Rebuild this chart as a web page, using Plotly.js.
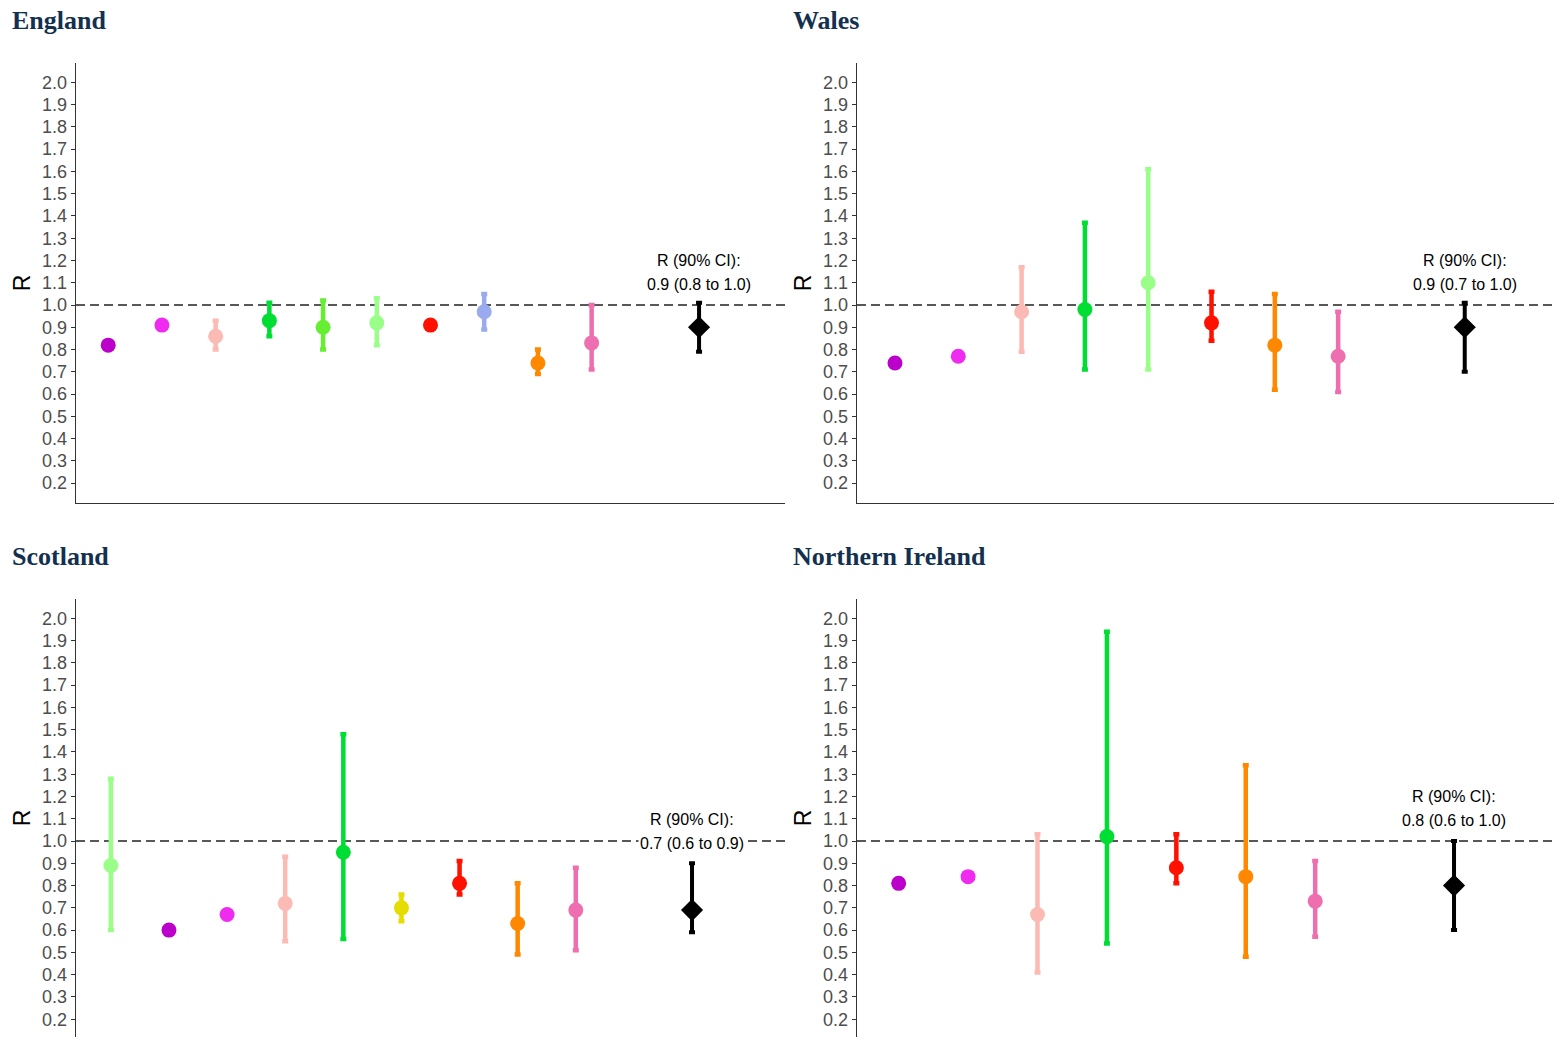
<!DOCTYPE html>
<html>
<head>
<meta charset="utf-8">
<script src="https://cdn.plot.ly/plotly-3.0.1.min.js"></script>
<style>
html,body{margin:0;padding:0;background:#fff;}
#chart{width:1554px;height:1037px;}
</style>
</head>
<body>
<div id="chart"></div>
<script>
// ---------- Data ----------
const panelTitles = ["England", "Wales", "Scotland", "Northern Ireland"];
const yTickValues = [0.2,0.3,0.4,0.5,0.6,0.7,0.8,0.9,1.0,1.1,1.2,1.3,1.4,1.5,1.6,1.7,1.8,1.9,2.0];
const yTickLabels = ["0.2","0.3","0.4","0.5","0.6","0.7","0.8","0.9","1.0","1.1","1.2","1.3","1.4","1.5","1.6","1.7","1.8","1.9","2.0"];

// England
const englandPos   = [1, 2, 3, 4, 5, 6, 7, 8, 9, 10, 12];
const englandR     = [0.82, 0.91, 0.86, 0.93, 0.90, 0.92, 0.91, 0.97, 0.74, 0.83, 0.90];
const englandLow   = [null, null, 0.80, 0.86, 0.80, 0.82, null, 0.89, 0.69, 0.71, 0.79];
const englandHigh  = [null, null, 0.93, 1.01, 1.02, 1.03, null, 1.05, 0.80, 1.00, 1.01];
const englandColor = ["#BB00CC","#EE2BEE","#FBBAB4","#00DD33","#66EE33","#99FF88","#FF1100","#99AAEE","#FF8800","#EE6FAF","#000000"];
const englandCI    = ["R (90% CI):", "0.9 (0.8 to 1.0)"];

// Wales
const walesPos   = [1, 2, 3, 4, 5, 6, 7, 8, 10];
const walesR     = [0.74, 0.77, 0.97, 0.98, 1.10, 0.92, 0.82, 0.77, 0.90];
const walesLow   = [0.72, null, 0.79, 0.71, 0.71, 0.84, 0.62, 0.61, 0.70];
const walesHigh  = [0.76, null, 1.17, 1.37, 1.61, 1.06, 1.05, 0.97, 1.01];
const walesColor = ["#BB00CC","#EE2BEE","#FBBAB4","#00DD33","#99FF88","#FF1100","#FF8800","#EE6FAF","#000000"];
const walesCI    = ["R (90% CI):", "0.9 (0.7 to 1.0)"];

// Scotland
const scotlandPos   = [1, 2, 3, 4, 5, 6, 7, 8, 9, 11];
const scotlandR     = [0.89, 0.60, 0.67, 0.72, 0.95, 0.70, 0.81, 0.63, 0.69, 0.69];
const scotlandLow   = [0.60, null, null, 0.55, 0.56, 0.64, 0.76, 0.49, 0.51, 0.59];
const scotlandHigh  = [1.28, null, null, 0.93, 1.48, 0.76, 0.91, 0.81, 0.88, 0.90];
const scotlandColor = ["#99FF88","#BB00CC","#EE2BEE","#FBBAB4","#00DD33","#E5DD00","#FF1100","#FF8800","#EE6FAF","#000000"];
const scotlandCI    = ["R (90% CI):", "0.7 (0.6 to 0.9)"];

// Northern Ireland
const niPos   = [1, 2, 3, 4, 5, 6, 7, 9];
const niR     = [0.81, 0.84, 0.67, 1.02, 0.88, 0.84, 0.73, 0.80];
const niLow   = [null, null, 0.41, 0.54, 0.81, 0.48, 0.57, 0.60];
const niHigh  = [null, null, 1.03, 1.94, 1.03, 1.34, 0.91, 1.00];
const niColor = ["#BB00CC","#EE2BEE","#FBBAB4","#00DD33","#FF1100","#FF8800","#EE6FAF","#000000"];
const niCI    = ["R (90% CI):", "0.8 (0.6 to 1.0)"];

// ---------- Layout geometry (pixels) ----------
const W = 1554, H = 1037;
const px = v => v / W;
const py = v => (H - v) / H;

const panels = [
  {pos: englandPos, r: englandR, lo: englandLow, hi: englandHigh, col: englandColor, ci: englandCI,
   xd: [px(76), px(785)], yd: [py(503), py(63)], xr: [0.4, 13.6], yr: [0.111, 2.087],
   tx: 10, ty: 20, ciPos: 12, ciY: [1.198, 1.094], ciBg: false, xline: true},
  {pos: walesPos, r: walesR, lo: walesLow, hi: walesHigh, col: walesColor, ci: walesCI,
   xd: [px(857), 1], yd: [py(503), py(63)], xr: [0.4, 11.41], yr: [0.111, 2.087],
   tx: 791, ty: 20, ciPos: 10, ciY: [1.198, 1.094], ciBg: false, xline: true},
  {pos: scotlandPos, r: scotlandR, lo: scotlandLow, hi: scotlandHigh, col: scotlandColor, ci: scotlandCI,
   xd: [px(76), px(785)], yd: [0, py(599)], xr: [0.4, 12.6], yr: [0.12, 2.087],
   tx: 10, ty: 556, ciPos: 11, ciY: [1.099, 0.991], ciBg: true, xline: false},
  {pos: niPos, r: niR, lo: niLow, hi: niHigh, col: niColor, ci: niCI,
   xd: [px(857), 1], yd: [0, py(599)], xr: [0.4, 10.44], yr: [0.12, 2.087],
   tx: 791, ty: 556, ciPos: 9, ciY: [1.198, 1.094], ciBg: false, xline: false}
];

const traces = [];
const annotations = [];
const shapes = [];
const layout = {
  width: W, height: H,
  margin: {l: 0, r: 0, t: 0, b: 0},
  paper_bgcolor: "#ffffff",
  plot_bgcolor: "rgba(0,0,0,0)",
  showlegend: false,
  font: {family: "Liberation Sans, Arial, sans-serif", color: "#000"}
};

panels.forEach((p, k) => {
  const sfx = k === 0 ? "" : String(k + 1);
  const xa = "x" + sfx, ya = "y" + sfx;
  layout["xaxis" + sfx] = {
    domain: p.xd, range: p.xr, anchor: ya,
    showgrid: false, zeroline: false, showticklabels: false, ticks: "",
    showline: p.xline, linecolor: "#333333", linewidth: 1.3, fixedrange: true
  };
  layout["yaxis" + sfx] = {
    domain: p.yd, range: p.yr, anchor: xa,
    showgrid: false, zeroline: false,
    tickmode: "array", tickvals: yTickValues, ticktext: yTickLabels,
    ticks: "outside", ticklen: 4, tickwidth: 1, tickcolor: "#333333",
    tickfont: {family: "Liberation Sans, Arial, sans-serif", size: 18, color: "#4d4d4d"},
    showline: true, linecolor: "#333333", linewidth: 1.3,
    title: {text: "R", font: {family: "Liberation Sans, Arial, sans-serif", size: 23, color: "#000"}, standoff: 5},
    fixedrange: true
  };
  // reference line at R = 1
  shapes.push({type: "line", xref: xa + " domain", yref: ya, x0: 0, x1: 1, y0: 1, y1: 1,
               line: {color: "#222222", width: 1.5, dash: "9px,5px"}, layer: "below"});
  // points
  for (let i = 0; i < p.pos.length; i++) {
    const isOverall = i === p.pos.length - 1;
    const t = {
      type: "scatter", mode: "markers", xaxis: xa, yaxis: ya,
      x: [p.pos[i]], y: [p.r[i]],
      marker: {color: p.col[i], size: isOverall ? 17 : 15, symbol: isOverall ? "diamond" : "circle", line: {width: 0}},
      hoverinfo: "y"
    };
    if (p.lo[i] !== null && p.hi[i] !== null) {
      t.error_y = {type: "data", symmetric: false,
                   array: [p.hi[i] - p.r[i]], arrayminus: [p.r[i] - p.lo[i]],
                   color: p.col[i], thickness: isOverall ? 4 : 4.5, width: 3};
    }
    traces.push(t);
  }
  // CI text
  annotations.push({xref: xa, yref: ya, x: p.ciPos, y: p.ciY[0], text: p.ci[0], showarrow: false,
                    font: {size: 16, color: "#000", family: "Liberation Sans, Arial, sans-serif"},
                    xanchor: "center", yanchor: "middle"});
  const a2 = {xref: xa, yref: ya, x: p.ciPos, y: p.ciY[1], text: p.ci[1], showarrow: false,
              font: {size: 16, color: "#000", family: "Liberation Sans, Arial, sans-serif"},
              xanchor: "center", yanchor: "middle"};
  if (p.ciBg) { a2.bgcolor = "#ffffff"; a2.borderpad = 1; }
  annotations.push(a2);
  // panel title
  annotations.push({xref: "paper", yref: "paper", x: px(p.tx), y: py(p.ty), text: "<b>" + panelTitles[k] + "</b>",
                    showarrow: false, xanchor: "left", yanchor: "middle",
                    font: {family: "Liberation Serif, Times New Roman, serif", size: 26, color: "#13304F"}});
});

layout.annotations = annotations;
layout.shapes = shapes;

Plotly.newPlot("chart", traces, layout, {displayModeBar: false, staticPlot: true});
</script>
</body>
</html>
